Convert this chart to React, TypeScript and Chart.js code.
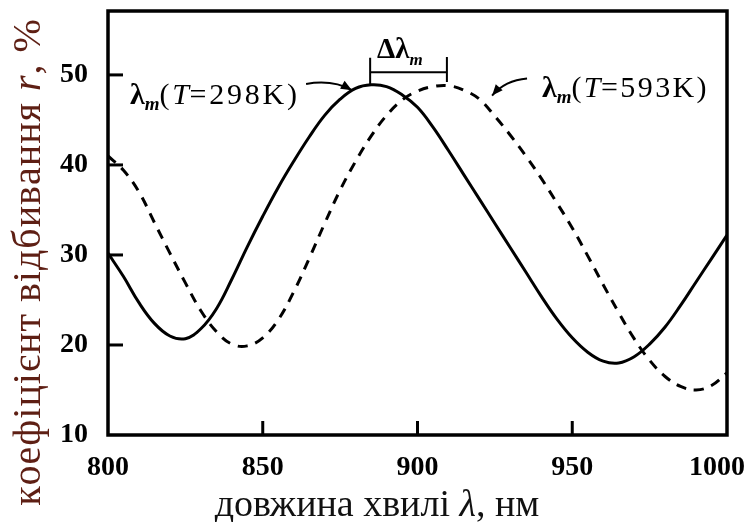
import { useEffect, useRef } from "react";
import { Chart, registerables } from "chart.js";

Chart.register(...registerables);

// ---- data ----
const wavelengths = [
  800, 805, 810, 815, 820, 825, 830, 835, 840, 845, 850, 855, 860, 865, 870, 875, 880, 885, 890, 895,
  900, 905, 910, 915, 920, 925, 930, 935, 940, 945, 950, 955, 960, 965, 970, 975, 980, 985, 990, 995, 1000,
];
const reflect298 = [
  30.2, 27.6, 24.7, 22.4, 21.0, 20.7, 21.8, 24.0, 27.3, 30.9, 34.3, 37.5, 40.4, 43.1, 45.5, 47.3, 48.5, 48.9, 48.7, 47.8,
  46.4, 44.2, 41.6, 38.9, 36.2, 33.5, 30.8, 28.1, 25.4, 22.9, 20.8, 19.2, 18.2, 18.0, 18.7, 20.1, 22.0, 24.4, 27.0, 29.6, 32.2,
];
const reflect593 = [
  41.0, 39.4, 37.0, 33.6, 30.2, 26.9, 23.8, 21.5, 20.1, 19.9, 20.8, 22.8, 25.9, 29.6, 33.5, 37.2, 40.4, 43.2, 45.5, 47.2,
  48.2, 48.7, 48.8, 48.3, 47.3, 45.4, 43.3, 41.0, 38.5, 35.8, 33.0, 29.9, 26.7, 23.6, 20.7, 18.3, 16.5, 15.4, 15.0, 15.5, 16.9,
];
const xTickValues = [800, 850, 900, 950, 1000];
const yTickValues = [10, 20, 30, 40, 50];
const xInnerTicks = [850, 900, 950];
const yInnerTicks = [20, 30, 40, 50];
const peak298 = 884.7;
const peak593 = 909.5;

const SERIF = '"Liberation Serif", "Times New Roman", serif';

type Seg = { t: string; f: string; dy?: number; sp?: number };

function segWidth(ctx: CanvasRenderingContext2D, s: Seg) {
  ctx.font = s.f;
  const sp = s.sp || 0;
  if (!sp) return ctx.measureText(s.t).width;
  let w = 0;
  for (const ch of s.t) w += ctx.measureText(ch).width + sp;
  return w;
}

function richWidth(ctx: CanvasRenderingContext2D, segs: Seg[]) {
  let w = 0;
  for (const s of segs) w += segWidth(ctx, s);
  return w;
}

function drawRich(ctx: CanvasRenderingContext2D, x: number, y: number, segs: Seg[]) {
  let cx = x;
  ctx.textAlign = "left";
  ctx.textBaseline = "alphabetic";
  for (const s of segs) {
    ctx.font = s.f;
    const sp = s.sp || 0;
    if (!sp) {
      ctx.fillText(s.t, cx, y + (s.dy || 0));
      cx += ctx.measureText(s.t).width;
    } else {
      for (const ch of s.t) {
        ctx.fillText(ch, cx, y + (s.dy || 0));
        cx += ctx.measureText(ch).width + sp;
      }
    }
  }
}

function arrow(
  ctx: CanvasRenderingContext2D,
  x0: number,
  y0: number,
  cx: number,
  cy: number,
  x1: number,
  y1: number
) {
  ctx.beginPath();
  ctx.moveTo(x0, y0);
  ctx.quadraticCurveTo(cx, cy, x1, y1);
  ctx.lineWidth = 2;
  ctx.stroke();
  const ang = Math.atan2(y1 - cy, x1 - cx);
  const L = 11;
  const W = 4.5;
  ctx.beginPath();
  ctx.moveTo(x1, y1);
  ctx.lineTo(x1 - L * Math.cos(ang) + W * Math.sin(ang), y1 - L * Math.sin(ang) - W * Math.cos(ang));
  ctx.lineTo(x1 - L * Math.cos(ang) - W * Math.sin(ang), y1 - L * Math.sin(ang) + W * Math.cos(ang));
  ctx.closePath();
  ctx.fill();
}

const decorPlugin = {
  id: "decor",
  afterDatasetsDraw(chart: any) {
    const { ctx, chartArea: a } = chart;
    const x = chart.scales.x;
    const y = chart.scales.y;
    const X = (v: number) => x.getPixelForValue(v);
    const Y = (v: number) => y.getPixelForValue(v);
    ctx.save();
    ctx.strokeStyle = "#000";
    ctx.fillStyle = "#000";
    ctx.lineCap = "butt";

    // frame
    ctx.lineWidth = 3.5;
    ctx.strokeRect(a.left, a.top, a.right - a.left, a.bottom - a.top);

    // inward ticks
    ctx.lineWidth = 3;
    for (const v of xInnerTicks) {
      ctx.beginPath();
      ctx.moveTo(X(v), a.bottom);
      ctx.lineTo(X(v), a.bottom - 14);
      ctx.stroke();
    }
    for (const v of yInnerTicks) {
      ctx.beginPath();
      ctx.moveTo(a.left, Y(v));
      ctx.lineTo(a.left + 15, Y(v));
      ctx.stroke();
    }

    // x tick labels (kept inside the canvas like the reference)
    ctx.font = `bold 28px ${SERIF}`;
    ctx.textAlign = "center";
    ctx.textBaseline = "middle";
    for (const v of xTickValues) {
      const label = String(v);
      const w = ctx.measureText(label).width;
      const px = Math.min(X(v), chart.width - 3 - w / 2);
      ctx.fillText(label, px, 468);
    }

    // Δλm bracket
    ctx.lineWidth = 2;
    ctx.beginPath();
    ctx.moveTo(X(peak298), Y(51.9));
    ctx.lineTo(X(peak298), Y(49.0));
    ctx.moveTo(X(peak593), Y(52.0));
    ctx.lineTo(X(peak593), Y(49.2));
    ctx.moveTo(X(peak298), Y(50.3));
    ctx.lineTo(X(peak593), Y(50.3));
    ctx.stroke();
    drawRich(ctx, X(886.9), Y(51.9), [
      { t: "Δλ", f: `bold 29px ${SERIF}` },
      { t: "m", f: `italic bold 17px ${SERIF}`, dy: 7 },
    ]);

    // label 298K + arrow
    drawRich(ctx, X(807.1), Y(46.8), [
      { t: "λ", f: `bold 30px ${SERIF}` },
      { t: "m", f: `italic bold 19px ${SERIF}`, dy: 6 },
      { t: "(", f: `30px ${SERIF}`, sp: 2.8 },
      { t: "T", f: `italic 30px ${SERIF}`, sp: 0.5 },
      { t: "=298K)", f: `30px ${SERIF}`, sp: 2.8 },
    ]);
    arrow(ctx, X(864.0), Y(49.0), X(872.7), Y(49.5), X(878.8), Y(48.3));

    // label 593K + arrow
    drawRich(ctx, X(940.2), Y(47.6), [
      { t: "λ", f: `bold 30px ${SERIF}` },
      { t: "m", f: `italic bold 19px ${SERIF}`, dy: 6 },
      { t: "(", f: `30px ${SERIF}`, sp: 2.4 },
      { t: "T", f: `italic 30px ${SERIF}`, sp: 0.5 },
      { t: "=593K)", f: `30px ${SERIF}`, sp: 2.4 },
    ]);
    arrow(ctx, X(935.4), Y(49.6), X(928.3), Y(49.4), X(924.1), Y(47.7));

    ctx.restore();
  },
  afterDraw(chart: any) {
    const { ctx } = chart;
    ctx.save();
    // x title
    const xs: Seg[] = [
      { t: "довжина хвилі ", f: `38px ${SERIF}` },
      { t: "λ", f: `italic 38px ${SERIF}` },
      { t: ", нм", f: `38px ${SERIF}` },
    ];
    ctx.fillStyle = "#111";
    const xw = richWidth(ctx, xs);
    drawRich(ctx, 377 - xw / 2, 516, xs);

    // y title
    const ys: Seg[] = [
      { t: "коефіцієнт відбивання ", f: `40px ${SERIF}`, sp: 1 },
      { t: "r", f: `italic 40px ${SERIF}`, sp: 1 },
      { t: ", %", f: `40px ${SERIF}`, sp: 1 },
    ];
    const yw = richWidth(ctx, ys);
    ctx.translate(40, 262);
    ctx.rotate(-Math.PI / 2);
    ctx.fillStyle = "#5e1f14";
    drawRich(ctx, -yw / 2, 0, ys);
    ctx.restore();
  },
};

export default function App() {
  const ref = useRef<HTMLCanvasElement | null>(null);

  useEffect(() => {
    if (!ref.current) return;
    const chart = new Chart(ref.current, {
      type: "line",
      data: {
        datasets: [
          {
            label: "T=298K",
            data: wavelengths.map((w, i) => ({ x: w, y: reflect298[i] })),
            borderColor: "#000",
            borderWidth: 3,
            pointRadius: 0,
            tension: 0.4,
            fill: false,
          },
          {
            label: "T=593K",
            data: wavelengths.map((w, i) => ({ x: w, y: reflect593[i] })),
            borderColor: "#000",
            borderWidth: 3,
            borderDash: [10, 8],
            pointRadius: 0,
            tension: 0.4,
            fill: false,
          },
        ],
      },
      options: {
        responsive: false,
        animation: false,
        devicePixelRatio: 1,
        layout: { padding: { left: 0, top: 11, right: 21, bottom: 0 } },
        plugins: { legend: { display: false }, tooltip: { enabled: false }, title: { display: false } },
        scales: {
          x: {
            type: "linear",
            min: 800,
            max: 1000,
            afterBuildTicks: (s: any) => {
              s.ticks = xTickValues.map((v) => ({ value: v }));
            },
            afterFit: (s: any) => {
              s.height = 87;
              s.paddingLeft = 0;
              s.paddingRight = 0;
            },
            grid: { display: false, drawTicks: false },
            border: { display: false },
            ticks: { display: false },
          },
          y: {
            type: "linear",
            min: 10,
            max: 57.1,
            afterBuildTicks: (s: any) => {
              s.ticks = yTickValues.map((v) => ({ value: v }));
            },
            afterFit: (s: any) => {
              s.width = 108;
              s.paddingTop = 0;
              s.paddingBottom = 0;
            },
            grid: { display: false, drawTicks: false },
            border: { display: false },
            ticks: {
              color: "#000",
              padding: 20,
              autoSkip: false,
              callback: (v: any) => String(v),
              font: { family: SERIF, size: 28, weight: "bold" },
            },
          },
        },
      },
      plugins: [decorPlugin],
    } as any);
    return () => chart.destroy();
  }, []);

  return (
    <div style={{ position: "absolute", left: 0, top: 0, width: 748, height: 522, background: "#fff" }}>
      <canvas ref={ref} width={748} height={522} />
    </div>
  );
}
